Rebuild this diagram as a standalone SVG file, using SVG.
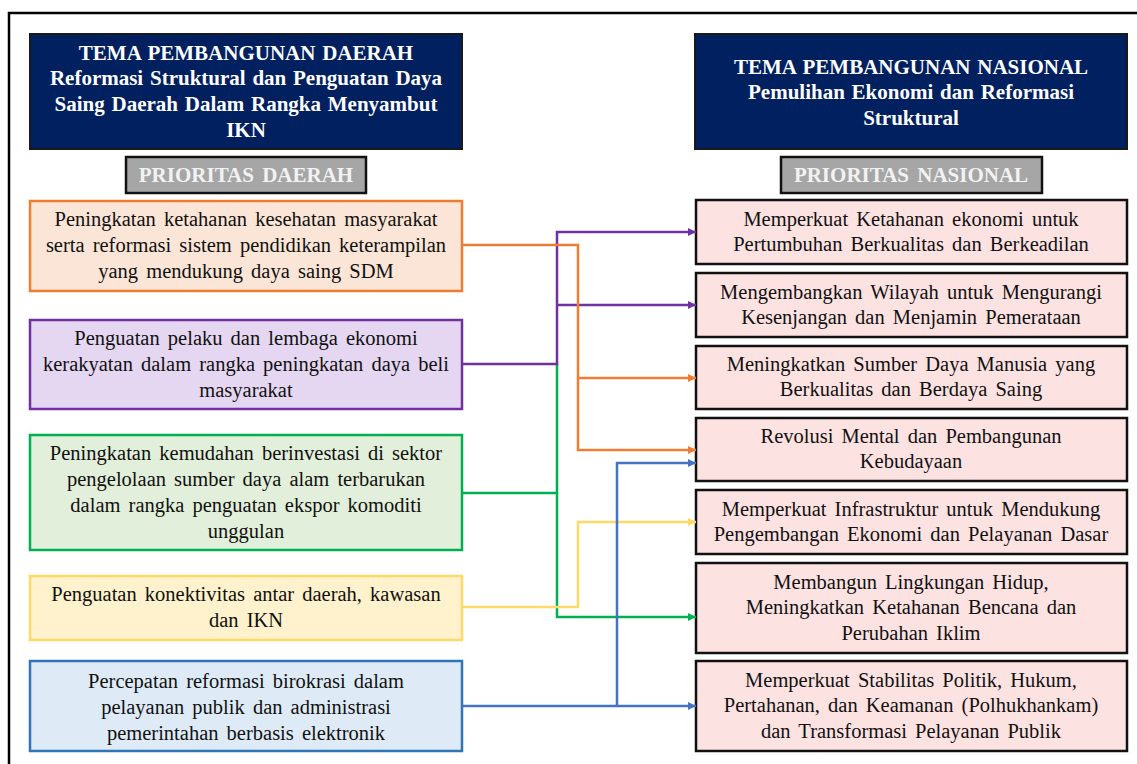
<svg xmlns="http://www.w3.org/2000/svg" width="1137" height="764" viewBox="0 0 1137 764" font-family="'Liberation Serif', 'DejaVu Serif', serif">
<style>
text{font-family:'Liberation Serif','DejaVu Serif',serif;text-anchor:middle;}
.hd{fill:#002060;stroke:#1a1a1a;stroke-width:2;}
.hdt{fill:#ffffff;font-weight:bold;font-size:21px;word-spacing:1.5px;}
.pr{fill:#A6A6A6;stroke:#111;stroke-width:2.5;}
.prt{fill:#F2F2F2;font-weight:bold;font-size:21px;word-spacing:3px;}
.lt{fill:#111;font-size:20.5px;word-spacing:3px;}
.rb{fill:#FDE2E2;stroke:#111;stroke-width:2.5;}
.c{fill:none;stroke-width:2.5;}
</style>
<defs>
<marker id="aO" viewBox="0 0 10 10" refX="10" refY="5" markerWidth="10" markerHeight="8" markerUnits="userSpaceOnUse" orient="auto"><path d="M0,0L10,5L0,10z" fill="#ED7D31"/></marker>
<marker id="aP" viewBox="0 0 10 10" refX="10" refY="5" markerWidth="10" markerHeight="8" markerUnits="userSpaceOnUse" orient="auto"><path d="M0,0L10,5L0,10z" fill="#7030A0"/></marker>
<marker id="aG" viewBox="0 0 10 10" refX="10" refY="5" markerWidth="10" markerHeight="8" markerUnits="userSpaceOnUse" orient="auto"><path d="M0,0L10,5L0,10z" fill="#00B050"/></marker>
<marker id="aY" viewBox="0 0 10 10" refX="10" refY="5" markerWidth="10" markerHeight="8" markerUnits="userSpaceOnUse" orient="auto"><path d="M0,0L10,5L0,10z" fill="#FFD966"/></marker>
<marker id="aB" viewBox="0 0 10 10" refX="10" refY="5" markerWidth="10" markerHeight="8" markerUnits="userSpaceOnUse" orient="auto"><path d="M0,0L10,5L0,10z" fill="#4472C4"/></marker>
</defs>
<rect width="1137" height="764" fill="#ffffff"/>
<path d="M9,764V13H1137" fill="none" stroke="#000" stroke-width="2.5"/>

<g id="tema-daerah">
<rect class="hd" x="30" y="34" width="432" height="115"/>
<text class="hdt" x="246" y="60">TEMA PEMBANGUNAN DAERAH</text>
<text class="hdt" x="246" y="85">Reformasi Struktural dan Penguatan Daya</text>
<text class="hdt" x="246" y="111">Saing Daerah Dalam Rangka Menyambut</text>
<text class="hdt" x="246" y="137">IKN</text>
</g>
<g id="prioritas-daerah">
<rect class="pr" x="126" y="157" width="240" height="36"/>
<text class="prt" x="246" y="182">PRIORITAS DAERAH</text>
</g>
<g id="tema-nasional">
<rect class="hd" x="695" y="34" width="432" height="115"/>
<text class="hdt" x="911" y="74">TEMA PEMBANGUNAN NASIONAL</text>
<text class="hdt" x="911" y="99">Pemulihan Ekonomi dan Reformasi</text>
<text class="hdt" x="911" y="125">Struktural</text>
</g>
<g id="prioritas-nasional">
<rect class="pr" x="781" y="157" width="261" height="36"/>
<text class="prt" x="911" y="182">PRIORITAS NASIONAL</text>
</g>

<g id="daerah-1">
<rect x="30" y="201" width="432" height="90" fill="#FBE5D6" stroke="#ED7D31" stroke-width="2.5"/>
<text class="lt" x="246" y="226">Peningkatan ketahanan kesehatan masyarakat</text>
<text class="lt" x="246" y="252">serta reformasi sistem pendidikan keterampilan</text>
<text class="lt" x="246" y="278">yang mendukung daya saing SDM</text>
</g>
<g id="daerah-2">
<rect x="30" y="320" width="432" height="89" fill="#E5D7F1" stroke="#7030A0" stroke-width="2.5"/>
<text class="lt" x="246" y="345">Penguatan pelaku dan lembaga ekonomi</text>
<text class="lt" x="246" y="371">kerakyatan dalam rangka peningkatan daya beli</text>
<text class="lt" x="246" y="397">masyarakat</text>
</g>
<g id="daerah-3">
<rect x="30" y="435" width="432" height="115" fill="#E2EFDA" stroke="#00B050" stroke-width="2.5"/>
<text class="lt" x="246" y="460">Peningkatan kemudahan berinvestasi di sektor</text>
<text class="lt" x="246" y="486">pengelolaan sumber daya alam terbarukan</text>
<text class="lt" x="246" y="512">dalam rangka penguatan ekspor komoditi</text>
<text class="lt" x="246" y="538">unggulan</text>
</g>
<g id="daerah-4">
<rect x="30" y="576" width="432" height="64" fill="#FFF2CC" stroke="#FFD966" stroke-width="2.5"/>
<text class="lt" x="246" y="601">Penguatan konektivitas antar daerah, kawasan</text>
<text class="lt" x="246" y="627">dan IKN</text>
</g>
<g id="daerah-5">
<rect x="30" y="661" width="432" height="90" fill="#DEEBF7" stroke="#2E75B6" stroke-width="2.5"/>
<text class="lt" x="246" y="688">Percepatan reformasi birokrasi dalam</text>
<text class="lt" x="246" y="714">pelayanan publik dan administrasi</text>
<text class="lt" x="246" y="740">pemerintahan berbasis elektronik</text>
</g>

<g id="nasional-1">
<rect class="rb" x="696" y="200" width="431" height="64"/>
<text class="lt" x="911" y="226">Memperkuat Ketahanan ekonomi untuk</text>
<text class="lt" x="911" y="251">Pertumbuhan Berkualitas dan Berkeadilan</text>
</g>
<g id="nasional-2">
<rect class="rb" x="696" y="273" width="431" height="64"/>
<text class="lt" x="911" y="299">Mengembangkan Wilayah untuk Mengurangi</text>
<text class="lt" x="911" y="324">Kesenjangan dan Menjamin Pemerataan</text>
</g>
<g id="nasional-3">
<rect class="rb" x="696" y="346" width="431" height="63"/>
<text class="lt" x="911" y="371">Meningkatkan Sumber Daya Manusia yang</text>
<text class="lt" x="911" y="396">Berkualitas dan Berdaya Saing</text>
</g>
<g id="nasional-4">
<rect class="rb" x="696" y="418" width="431" height="63"/>
<text class="lt" x="911" y="443">Revolusi Mental dan Pembangunan</text>
<text class="lt" x="911" y="468">Kebudayaan</text>
</g>
<g id="nasional-5">
<rect class="rb" x="696" y="490" width="431" height="64"/>
<text class="lt" x="911" y="516">Memperkuat Infrastruktur untuk Mendukung</text>
<text class="lt" x="911" y="541">Pengembangan Ekonomi dan Pelayanan Dasar</text>
</g>
<g id="nasional-6">
<rect class="rb" x="696" y="563" width="431" height="90"/>
<text class="lt" x="911" y="589">Membangun Lingkungan Hidup,</text>
<text class="lt" x="911" y="614">Meningkatkan Ketahanan Bencana dan</text>
<text class="lt" x="911" y="640">Perubahan Iklim</text>
</g>
<g id="nasional-7">
<rect class="rb" x="696" y="661" width="431" height="90"/>
<text class="lt" x="911" y="687">Memperkuat Stabilitas Politik, Hukum,</text>
<text class="lt" x="911" y="712">Pertahanan, dan Keamanan (Polhukhankam)</text>
<text class="lt" x="911" y="738">dan Transformasi Pelayanan Publik</text>
</g>

<g id="connectors">
<path class="c" stroke="#00B050" d="M462,493H557"/>
<path class="c" stroke="#00B050" d="M557,364V617H696" marker-end="url(#aG)"/>
<path class="c" stroke="#7030A0" d="M462,364H557V232H696" marker-end="url(#aP)"/>
<path class="c" stroke="#7030A0" d="M557,305H696" marker-end="url(#aP)"/>
<path class="c" stroke="#ED7D31" d="M462,245H578V450H696" marker-end="url(#aO)"/>
<path class="c" stroke="#ED7D31" d="M578,378H696" marker-end="url(#aO)"/>
<path class="c" stroke="#FFD966" d="M462,607H578V522H696" marker-end="url(#aY)"/>
<path class="c" stroke="#4472C4" d="M462,706H696" marker-end="url(#aB)"/>
<path class="c" stroke="#4472C4" d="M617,706V463H696" marker-end="url(#aB)"/>
</g>
</svg>
